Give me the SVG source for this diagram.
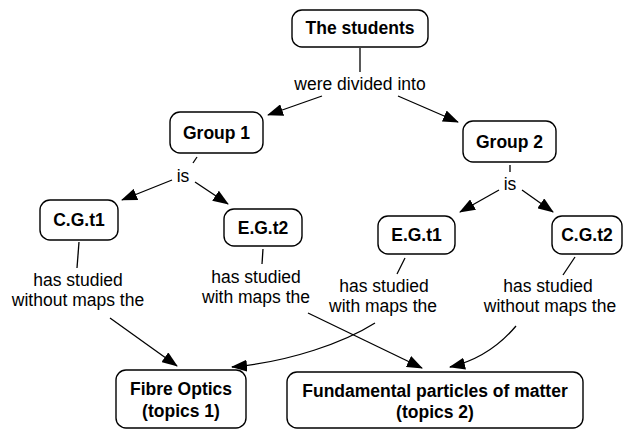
<svg xmlns="http://www.w3.org/2000/svg" width="625" height="431" viewBox="0 0 625 431">
<style>
.box{fill:#fff;stroke:#000;stroke-width:1.4}
.nt{font-family:"Liberation Sans",Arial,sans-serif;font-weight:bold;font-size:17.5px;text-anchor:middle;fill:#000}
.lt{font-family:"Liberation Sans",Arial,sans-serif;font-size:17.5px;text-anchor:middle;fill:#000}
.c{fill:none;stroke:#000;stroke-width:1.3}
</style>
<defs>
<marker id="ah" viewBox="0 0 16 12" markerWidth="16" markerHeight="12" refX="15" refY="6" orient="auto" markerUnits="userSpaceOnUse">
<path d="M0,0 L16,6 L0,12 z" fill="#000"/>
</marker>
</defs>
<rect width="625" height="431" fill="#fff"/>
<g id="connectors">
<line class="c" x1="360" y1="48" x2="360" y2="72"/>
<text class="lt" x="360" y="90">were divided into</text>
<line class="c" x1="322" y1="96" x2="268" y2="115" marker-end="url(#ah)"/>
<line class="c" x1="398" y1="96" x2="458" y2="122" marker-end="url(#ah)"/>
<line class="c" x1="197" y1="157" x2="193" y2="163"/>
<text class="lt" x="183" y="182">is</text>
<line class="c" x1="172" y1="180" x2="122" y2="200" marker-end="url(#ah)"/>
<line class="c" x1="195" y1="182" x2="228" y2="204" marker-end="url(#ah)"/>
<line class="c" x1="510" y1="165" x2="510" y2="172"/>
<text class="lt" x="510" y="190">is</text>
<line class="c" x1="499" y1="190" x2="460" y2="212" marker-end="url(#ah)"/>
<line class="c" x1="522" y1="190" x2="553" y2="212" marker-end="url(#ah)"/>
<line class="c" x1="79" y1="242" x2="77" y2="268"/>
<text class="lt" x="78" y="286">has studied</text>
<text class="lt" x="78" y="306">without maps the</text>
<line class="c" x1="263" y1="249" x2="262" y2="264"/>
<text class="lt" x="256" y="283">has studied</text>
<text class="lt" x="256" y="303">with maps the</text>
<line class="c" x1="405" y1="258" x2="397" y2="274"/>
<text class="lt" x="384" y="292">has studied</text>
<text class="lt" x="383" y="312">with maps the</text>
<line class="c" x1="575" y1="257" x2="563" y2="275"/>
<text class="lt" x="548" y="292">has studied</text>
<text class="lt" x="550" y="312">without maps the</text>
<line class="c" x1="110" y1="318" x2="177" y2="366" marker-end="url(#ah)"/>
<line class="c" x1="308" y1="313" x2="422" y2="368" marker-end="url(#ah)"/>
<path class="c" d="M375,323 C345,342 290,362 232,367" marker-end="url(#ah)"/>
<path class="c" d="M516,326 C500,345 480,360 450,367" marker-end="url(#ah)"/>
</g>
<g id="the-students"><rect class="box" x="292" y="10" width="136" height="37" rx="10"/><text class="nt" x="360" y="34">The students</text></g>
<g id="group1"><rect class="box" x="170" y="112" width="93" height="41" rx="10"/><text class="nt" x="216.5" y="139">Group 1</text></g>
<g id="group2"><rect class="box" x="463" y="121" width="93" height="41" rx="10"/><text class="nt" x="509.5" y="148">Group 2</text></g>
<g id="cgt1"><rect class="box" x="40" y="200" width="78" height="40" rx="10"/><text class="nt" x="79" y="226">C.G.t1</text></g>
<g id="egt2"><rect class="box" x="224" y="209" width="78" height="37" rx="10"/><text class="nt" x="263" y="234">E.G.t2</text></g>
<g id="egt1"><rect class="box" x="378" y="216" width="77" height="38" rx="10"/><text class="nt" x="416.5" y="241">E.G.t1</text></g>
<g id="cgt2"><rect class="box" x="552" y="216" width="70" height="38" rx="10"/><text class="nt" x="587" y="241">C.G.t2</text></g>
<g id="fibre"><rect class="box" x="116" y="370" width="130" height="58" rx="10"/><text class="nt" x="181" y="395">Fibre Optics</text><text class="nt" x="181" y="417">(topics 1)</text></g>
<g id="fundamental"><rect class="box" x="287" y="372" width="296" height="56" rx="10"/><text class="nt" x="435" y="397">Fundamental particles of matter</text><text class="nt" x="435" y="418">(topics 2)</text></g>
</svg>
